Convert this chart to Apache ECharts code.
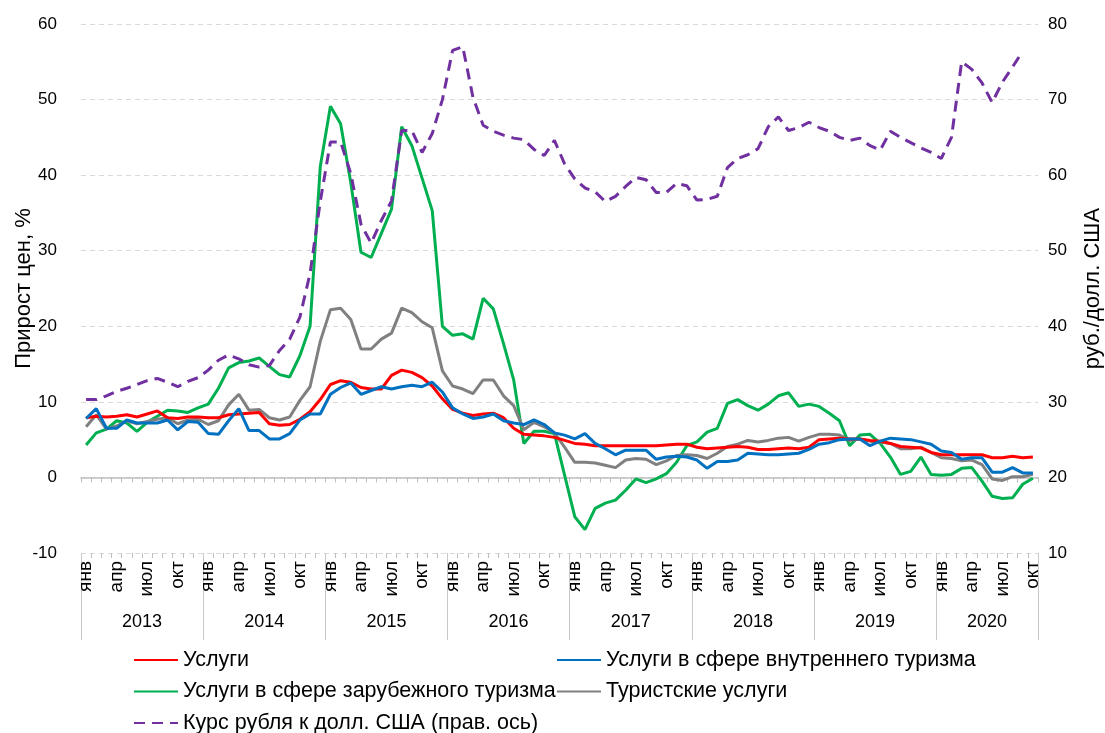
<!DOCTYPE html>
<html>
<head>
<meta charset="utf-8">
<script src="https://cdn.jsdelivr.net/npm/echarts@6.0.0/dist/echarts.min.js"></script>
<style>
  html, body { margin: 0; padding: 0; background: #fff; }
  #chart { width: 1105px; height: 733px; }
</style>
</head>
<body>
<div id="chart"></div>
<script>
// янв 2013 - окт 2020, помесячно
var years = [2013, 2014, 2015, 2016, 2017, 2018, 2019, 2020];
var monthNames = ['янв','фев','мар','апр','май','июн','июл','авг','сен','окт','ноя','дек'];
var lastYearMonths = 10;

// прирост цен, % (г/г)
var uslugi = [
  7.9, 8.1, 8.0, 8.1, 8.3, 8.0, 8.4, 8.8, 7.9, 7.8, 8.0, 8.0,
  7.9, 7.9, 8.3, 8.4, 8.5, 8.6, 7.1, 6.9, 7.0, 7.7, 8.7, 10.3,
  12.3, 12.8, 12.6, 11.9, 11.7, 11.7, 13.5, 14.2, 13.9, 13.2, 12.1, 10.4,
  9.0, 8.5, 8.2, 8.4, 8.5, 7.9, 6.5, 5.7, 5.6, 5.5, 5.3, 4.9,
  4.5, 4.4, 4.2, 4.2, 4.2, 4.2, 4.2, 4.2, 4.2, 4.3, 4.4, 4.4,
  4.0, 3.8, 3.9, 4.0, 4.1, 4.0, 3.7, 3.7, 3.8, 3.9, 3.8, 4.0,
  5.0, 5.1, 5.2, 5.1, 5.1, 4.9, 4.8, 4.5, 4.1, 4.0, 3.9, 3.3,
  3.0, 3.0, 3.0, 3.0, 3.0, 2.6, 2.6, 2.8, 2.6, 2.7
];
var vnutrenniy = [
  7.8, 9.1, 6.5, 6.5, 7.6, 7.2, 7.2, 7.2, 7.6, 6.3, 7.4, 7.3,
  5.8, 5.7, 7.5, 9.1, 6.2, 6.2, 5.1, 5.1, 5.8, 7.6, 8.4, 8.4,
  11.0, 11.9, 12.5, 11.0, 11.5, 12.0, 11.7, 12.0, 12.2, 12.0, 12.6, 11.3,
  9.2, 8.4, 7.8, 8.0, 8.4, 7.5, 7.2, 7.0, 7.6, 7.0, 5.9, 5.6,
  5.1, 5.8, 4.5, 3.8, 3.0, 3.6, 3.6, 3.6, 2.4, 2.7, 2.8, 2.7,
  2.3, 1.2, 2.1, 2.1, 2.3, 3.2, 3.1, 3.0, 3.0, 3.1, 3.2, 3.7,
  4.4, 4.6, 5.0, 5.1, 5.1, 4.2, 4.8, 5.2, 5.1, 5.0, 4.7, 4.4,
  3.5, 3.3, 2.4, 2.6, 2.6, 0.7, 0.7, 1.3, 0.6, 0.6
];
var zarubezhniy = [
  4.3, 5.9, 6.4, 7.5, 7.2, 6.1, 7.3, 8.1, 8.9, 8.8, 8.6, 9.2,
  9.7, 11.8, 14.5, 15.2, 15.4, 15.8, 14.7, 13.6, 13.3, 16.1, 20.0, 41.1,
  49.1, 46.8, 39.0, 29.8, 29.1, 32.3, 35.5, 46.4, 43.9, 39.6, 35.3, 20.0,
  18.8, 19.0, 18.3, 23.7, 22.3, 17.7, 12.9, 4.5, 6.1, 6.1, 5.8, 0.3,
  -5.2, -6.9, -4.1, -3.4, -3.0, -1.7, -0.2, -0.7, -0.2, 0.5, 2.0, 4.2,
  4.7, 6.0, 6.5, 9.8, 10.3, 9.5, 8.9, 9.7, 10.8, 11.2, 9.4, 9.7,
  9.4, 8.5, 7.5, 4.2, 5.6, 5.7, 4.5, 2.7, 0.4, 0.8, 2.7, 0.4,
  0.3, 0.4, 1.2, 1.3, -0.5, -2.5, -2.8, -2.7, -0.9, -0.1
];
var turistskie = [
  6.7, 8.3, 6.4, 6.8, 7.5, 7.1, 7.4, 7.7, 7.9, 7.1, 7.6, 7.7,
  7.0, 7.5, 9.6, 11.0, 8.9, 9.0, 7.9, 7.6, 8.0, 10.2, 12.0, 18.0,
  22.2, 22.4, 20.9, 17.0, 17.0, 18.3, 19.1, 22.4, 21.8, 20.6, 19.8, 14.1,
  12.1, 11.7, 11.1, 12.9, 12.9, 10.8, 9.5, 6.3, 7.3, 6.7, 5.9, 4.0,
  2.0, 2.0, 1.9, 1.6, 1.3, 2.3, 2.5, 2.4, 1.7, 2.2, 2.9, 3.0,
  2.9, 2.5, 3.2, 4.1, 4.4, 4.9, 4.7, 4.9, 5.2, 5.3, 4.8, 5.3,
  5.7, 5.7, 5.6, 4.9, 5.1, 4.8, 4.7, 4.5, 3.8, 3.8, 4.0, 3.3,
  2.6, 2.5, 2.2, 2.3, 1.7, -0.2, -0.4, 0.1, 0.1, 0.4
];
// руб./долл. США (правая ось)
var kurs = [
  30.3, 30.3, 30.8, 31.4, 31.8, 32.3, 32.8, 33.1, 32.6, 32.0, 32.7, 33.2,
  34.2, 35.5, 36.2, 35.7, 34.9, 34.6, 34.8, 36.8, 38.3, 41.2, 47.0, 56.5,
  64.4, 64.4, 60.2, 53.5, 51.0, 54.0, 56.6, 65.9, 65.9, 63.0, 65.5, 70.0,
  76.5, 77.0, 70.3, 66.6, 65.8, 65.3, 64.9, 64.7, 63.4, 62.6, 64.6, 61.5,
  59.5, 58.3, 57.8, 56.5, 57.2, 58.5, 59.7, 59.4, 57.7, 57.7, 58.9, 58.6,
  56.7, 56.8, 57.2, 61.0, 62.2, 62.7, 63.5, 66.4, 67.7, 65.9, 66.3, 67.0,
  66.3, 65.8, 65.0, 64.6, 64.9, 63.9, 63.3, 65.8, 65.0, 64.3, 63.6, 63.0,
  62.2, 65.0, 75.0, 74.0, 72.2, 69.6, 72.3, 74.3, 76.4, null
];

var categories = [];
years.forEach(function (y, yi) {
  var n = yi === years.length - 1 ? lastYearMonths : 12;
  for (var m = 0; m < n; m++) categories.push(monthNames[m] + ' ' + y);
});
var total = categories.length;

// границы и середины лет на вспомогательной оси
var yearEdges = [], yearMids = [];
years.forEach(function (y, yi) {
  var start = yi * 12;
  var end = Math.min(start + 12, total);
  yearEdges.push(start);
  yearMids.push((start + end) / 2);
});
yearEdges.push(total);

var font = 'Liberation Sans, Arial, sans-serif';
var gray = '#bfbfbf';

var legendText = { fontSize: 21.5, color: '#000', fontFamily: font, lineHeight: 24 };
var legendBase = {
  orient: 'vertical',
  itemWidth: 44, itemHeight: 14, itemGap: 7.5,
  itemStyle: { opacity: 0 },
  textStyle: legendText
};

var chart = echarts.init(document.getElementById('chart'));

var option = {
  animation: false,
  textStyle: { fontFamily: font, color: '#000' },
  grid: { left: 81, right: 67, top: 24, bottom: 180, containLabel: false, outerBoundsMode: 'none' },
  xAxis: [
    {
      type: 'category',
      data: categories,
      boundaryGap: true,
      axisLine: { onZero: true, onZeroAxisIndex: 0, lineStyle: { color: gray, width: 1.5 } },
      axisTick: { show: true, interval: 0, length: 5, lineStyle: { color: gray } },
      axisLabel: { show: false }
    },
    {
      type: 'category',
      data: categories,
      boundaryGap: true,
      position: 'bottom',
      axisLine: { show: false, onZero: false },
      axisTick: { show: true, interval: 0, length: 5, lineStyle: { color: gray } },
      axisLabel: {
        rotate: 90,
        margin: 8,
        fontSize: 19,
        color: '#000',
        fontFamily: font,
        interval: function (index) { return index % 3 === 0; },
        formatter: function (val) { return val.split(' ')[0]; }
      }
    },
    {
      type: 'value',
      min: 0,
      max: total,
      position: 'bottom',
      axisLine: { show: false, onZero: false },
      splitLine: { show: false },
      axisTick: { show: true, customValues: yearEdges, length: 87, lineStyle: { color: '#c8c8c8' } },
      axisLabel: {
        customValues: yearMids,
        margin: 60,
        fontSize: 18,
        color: '#000',
        fontFamily: font,
        formatter: function (v) { return String(years[Math.floor(v / 12)]); }
      }
    }
  ],
  yAxis: [
    {
      type: 'value',
      min: -10, max: 60, interval: 10,
      name: 'Прирост цен, %',
      nameLocation: 'middle',
      nameRotate: 90,
      nameGap: 46,
      nameMoveOverlap: false,
      nameTextStyle: { fontSize: 22, color: '#000', fontFamily: font },
      axisLine: { show: false, onZero: false },
      axisTick: { show: false },
      axisLabel: { fontSize: 17, color: '#000', margin: 24, fontFamily: font },
      splitLine: { show: true, lineStyle: { color: '#d9d9d9', type: [5, 4], width: 1 } }
    },
    {
      type: 'value',
      min: 10, max: 80, interval: 10,
      position: 'right',
      name: 'руб./долл. США',
      nameLocation: 'middle',
      nameRotate: 90,
      nameGap: 44,
      nameMoveOverlap: false,
      nameTextStyle: { fontSize: 22, color: '#000', fontFamily: font },
      axisLine: { show: false, onZero: false },
      axisTick: { show: false },
      axisLabel: { fontSize: 17, color: '#000', margin: 10, fontFamily: font },
      splitLine: { show: false }
    }
  ],
  legend: [
    Object.assign({ data: ['Услуги', 'Услуги в сфере зарубежного туризма'], left: 128, top: 643 }, legendBase),
    Object.assign({ data: ['Услуги в сфере внутреннего туризма', 'Туристские услуги'], left: 551, top: 643 }, legendBase),
    Object.assign({ data: ['Курс рубля к долл. США (прав. ось)'], left: 128, top: 706 }, legendBase)
  ],
  series: [
    {
      name: 'Услуги в сфере зарубежного туризма', type: 'line', data: zarubezhniy,
      xAxisIndex: 0, yAxisIndex: 0, symbol: 'none', z: 2,
      lineStyle: { color: '#00b050', width: 3 }, itemStyle: { color: '#00b050' }
    },
    {
      name: 'Туристские услуги', type: 'line', data: turistskie,
      xAxisIndex: 0, yAxisIndex: 0, symbol: 'none', z: 3,
      lineStyle: { color: '#808080', width: 3 }, itemStyle: { color: '#808080' }
    },
    {
      name: 'Услуги', type: 'line', data: uslugi,
      xAxisIndex: 0, yAxisIndex: 0, symbol: 'none', z: 4,
      lineStyle: { color: '#ff0000', width: 3 }, itemStyle: { color: '#ff0000' }
    },
    {
      name: 'Услуги в сфере внутреннего туризма', type: 'line', data: vnutrenniy,
      xAxisIndex: 0, yAxisIndex: 0, symbol: 'none', z: 5,
      lineStyle: { color: '#0070c0', width: 3 }, itemStyle: { color: '#0070c0' }
    },
    {
      name: 'Курс рубля к долл. США (прав. ось)', type: 'line', data: kurs,
      xAxisIndex: 0, yAxisIndex: 1, symbol: 'none', z: 6,
      lineStyle: { color: '#7030a0', width: 3, type: [11, 7] }, itemStyle: { color: '#7030a0' }
    }
  ]
};

chart.setOption(option);
</script>
</body>
</html>
